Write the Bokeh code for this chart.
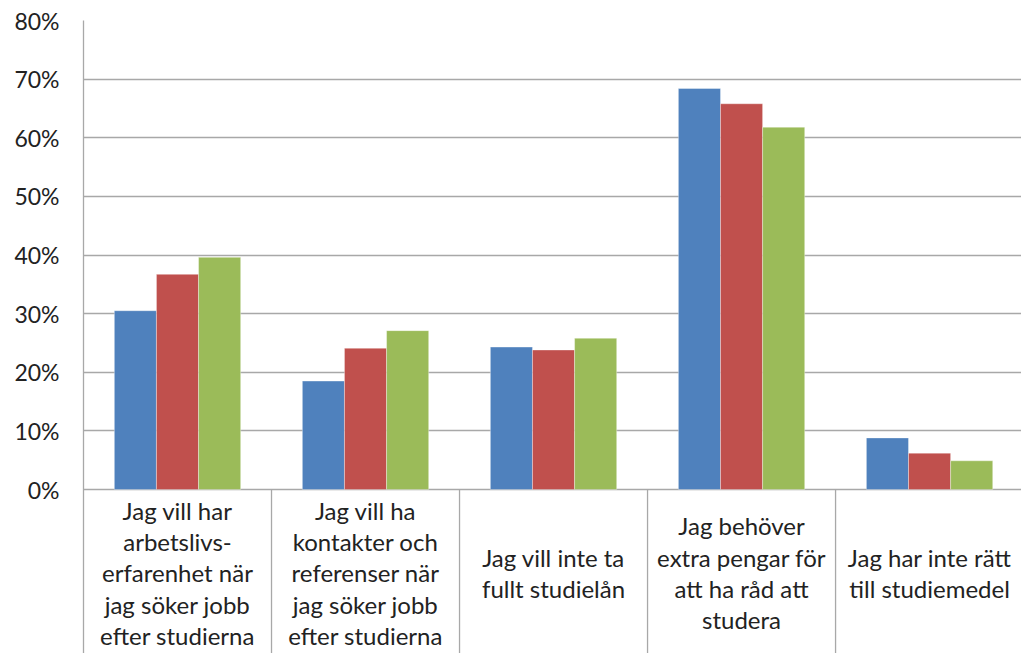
from bokeh.plotting import figure
from bokeh.models import Range1d, FixedTicker, PrintfTickFormatter, ColumnDataSource
from bokeh.core.properties import value
from bokeh.embed import file_html
from bokeh.resources import INLINE

# ---- data ----
categories = [
    "Jag vill har\narbetslivs-\nerfarenhet när\njag söker jobb\nefter studierna",
    "Jag vill ha\nkontakter och\nreferenser när\njag söker jobb\nefter studierna",
    "Jag vill inte ta\nfullt studielån",
    "Jag behöver\nextra pengar för\natt ha råd att\nstudera",
    "Jag har inte rätt\ntill studiemedel",
]
series_blue = [30.5, 18.5, 24.3, 68.4, 8.8]
series_red = [36.7, 24.1, 23.8, 65.8, 6.2]
series_green = [39.6, 27.1, 25.8, 61.8, 4.9]
y_ticks = [0, 10, 20, 30, 40, 50, 60, 70, 80]

# ---- styling ----
FONT = "Lato"
TEXT_COLOR = "#222222"
GRID_COLOR = "#a8a8a8"
COLORS = ["#4F81BD", "#C0504D", "#9BBB59"]
BAR_W = 0.224
Y_MIN = -27.97
X_END = 4.989

p = figure(
    width=1021, height=653,
    output_backend="svg", toolbar_location=None,
    x_range=Range1d(0, X_END), y_range=Range1d(Y_MIN, 80),
    x_axis_location=None, y_axis_location="left",
    min_border_left=83, min_border_top=20, min_border_bottom=0, min_border_right=0,
    outline_line_color=None, background_fill_color="white", border_fill_color="white",
)

n = len(categories)
centers = [i + 0.5 for i in range(n)]
for k, (vals, col) in enumerate(zip([series_blue, series_red, series_green], COLORS)):
    off = (k - 1) * BAR_W
    src = ColumnDataSource(dict(x=[c + off for c in centers], top=vals))
    p.vbar(x="x", top="top", bottom=0, width=BAR_W, source=src,
           fill_color=col, line_color="white", line_alpha=0.35, line_width=1)

# category separators below the zero line
bounds = list(range(1, n))
p.segment(x0=bounds, y0=[0] * len(bounds), x1=bounds, y1=[Y_MIN] * len(bounds),
          line_color=GRID_COLOR, line_width=1.3)

# category labels
lab_src = ColumnDataSource(dict(x=centers, y=[-14.2] * n, text=categories))
p.text(x="x", y="y", text="text", source=lab_src,
       text_align="center", text_baseline="middle",
       text_font=value(FONT), text_font_size="24px", text_color=TEXT_COLOR,
       text_line_height=1.08)

# axes / grid
p.yaxis.ticker = FixedTicker(ticks=y_ticks)
p.yaxis.formatter = PrintfTickFormatter(format="%d%%")
p.yaxis.major_tick_line_color = None
p.yaxis.minor_tick_line_color = None
p.yaxis.major_tick_out = 0
p.yaxis.major_label_standoff = 24
p.yaxis.axis_line_color = GRID_COLOR
p.yaxis.axis_line_width = 1.3
p.yaxis.major_label_text_font = FONT
p.yaxis.major_label_text_font_size = "23px"
p.yaxis.major_label_text_color = TEXT_COLOR

p.ygrid.ticker = FixedTicker(ticks=y_ticks)
p.ygrid.grid_line_color = GRID_COLOR
p.ygrid.grid_line_width = 1.3
p.xgrid.visible = False

open("out.html", "w").write(file_html(p, INLINE))
